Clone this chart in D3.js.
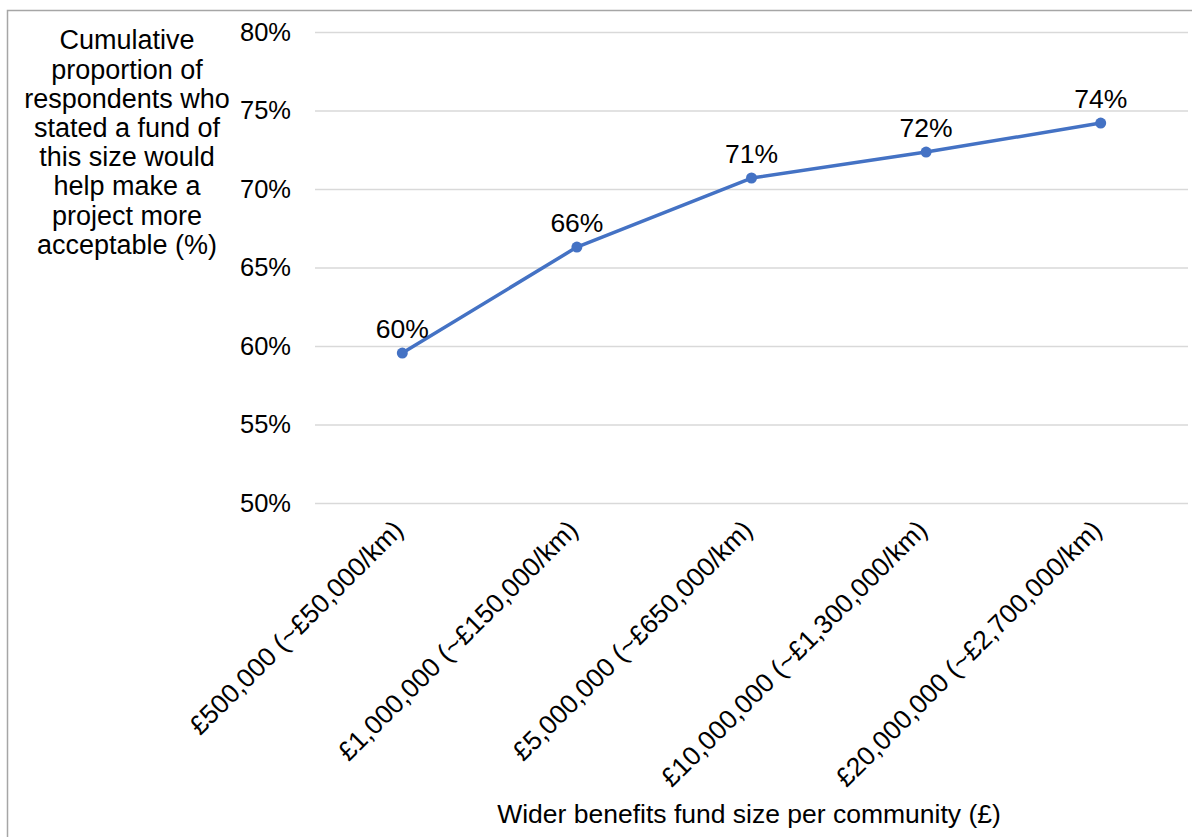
<!DOCTYPE html>
<html lang='en'>
    <head>
        <meta charset="utf-8">
        <script src="https://d3js.org/d3.v7.min.js"></script>
        <style>
            *{
                margin:0;
                padding:0
            }
            body{
                background-color:white;
                font-family:'Liberation Sans',Arial,sans-serif;
            }
            svg{
                display:block;
            }
            .grid line{
                stroke:#d9d9d9;
                stroke-width:1.3;
            }
        </style>
    </head>
    <body>
        <script>
            const categories=['£500,000 (~£50,000/km)','£1,000,000 (~£150,000/km)','£5,000,000 (~£650,000/km)','£10,000,000 (~£1,300,000/km)','£20,000,000 (~£2,700,000/km)'];
            const values=[59.55,66.3,70.7,72.35,74.2];
            const labels=['60%','66%','71%','72%','74%'];
            const yTicks=[50,55,60,65,70,75,80];
            const yTitle=['Cumulative','proportion of','respondents who','stated a fund of','this size would','help make a','project more','acceptable (%)'];
            const xTitle='Wider benefits fund size per community (£)';

            const width=1192,height=837;
            const plotLeft=315,plotRight=1188,plotTop=32,plotBottom=503;
            const svg=d3.select('body').append('svg')
                        .attr('width',width)
                        .attr('height',height);

            // chart border (only top and left edges visible)
            svg.append('path')
               .attr('d',`M7.5,${height}V10.5H${width}`)
               .attr('fill','none')
               .attr('stroke','#a6a6a6')
               .attr('stroke-width',1.5);

            const xScale=d3.scaleBand()
                           .domain(categories)
                           .range([plotLeft,plotRight]);
            const yScale=d3.scaleLinear()
                           .domain([50,80])
                           .range([plotBottom,plotTop]);

            // gridlines
            svg.append('g')
               .attr('class','grid')
               .attr('transform',`translate(${plotLeft},0)`)
               .call(d3.axisRight(yScale).tickValues(yTicks).tickSize(plotRight-plotLeft).tickFormat(''))
               .call(g=>g.select('.domain').remove());

            // y axis labels
            svg.append('g')
               .attr('transform','translate(291,0)')
               .call(d3.axisLeft(yScale).tickValues(yTicks).tickSize(0).tickPadding(0).tickFormat(d=>d+'%'))
               .call(g=>g.select('.domain').remove())
               .selectAll('text')
               .attr('font-family','Liberation Sans, Arial, sans-serif')
               .attr('font-size',25.5)
               .attr('fill','#000');

            // x axis labels, rotated
            svg.append('g')
               .attr('transform',`translate(0,${plotBottom})`)
               .call(d3.axisBottom(xScale).tickSize(0).tickPadding(0))
               .call(g=>g.select('.domain').remove())
               .selectAll('text')
               .attr('font-family','Liberation Sans, Arial, sans-serif')
               .attr('font-size',26.5)
               .attr('fill','#000')
               .attr('text-anchor','end')
               .attr('dy','0.35em')
               .attr('transform','translate(-4,22) rotate(-45)');

            const cx=(d,i)=>xScale(categories[i])+xScale.bandwidth()/2;
            const line=d3.line()
                         .x((d,i)=>cx(d,i))
                         .y(d=>yScale(d));
            svg.append('path')
               .datum(values)
               .attr('d',line)
               .attr('fill','none')
               .attr('stroke','#4472c4')
               .attr('stroke-width',3.5)
               .attr('stroke-linejoin','round');

            svg.selectAll('circle')
               .data(values)
               .enter()
               .append('circle')
               .attr('cx',cx)
               .attr('cy',d=>yScale(d))
               .attr('r',5.5)
               .attr('fill','#4472c4');

            svg.selectAll('.lbl')
               .data(values)
               .enter()
               .append('text')
               .attr('class','lbl')
               .attr('x',cx)
               .attr('y',d=>yScale(d)-24)
               .attr('dy','0.35em')
               .attr('text-anchor','middle')
               .attr('font-size',26.5)
               .text((d,i)=>labels[i]);

            // y axis title
            svg.append('text')
               .attr('text-anchor','middle')
               .attr('font-size',27)
               .selectAll('tspan')
               .data(yTitle)
               .enter()
               .append('tspan')
               .attr('x',127)
               .attr('y',(d,i)=>40+i*29.2)
               .attr('dy','0.35em')
               .text(d=>d);

            // x axis title
            svg.append('text')
               .attr('x',749)
               .attr('y',814)
               .attr('dy','0.35em')
               .attr('text-anchor','middle')
               .attr('font-size',26.5)
               .text(xTitle);
        </script>
    </body>
</html>
